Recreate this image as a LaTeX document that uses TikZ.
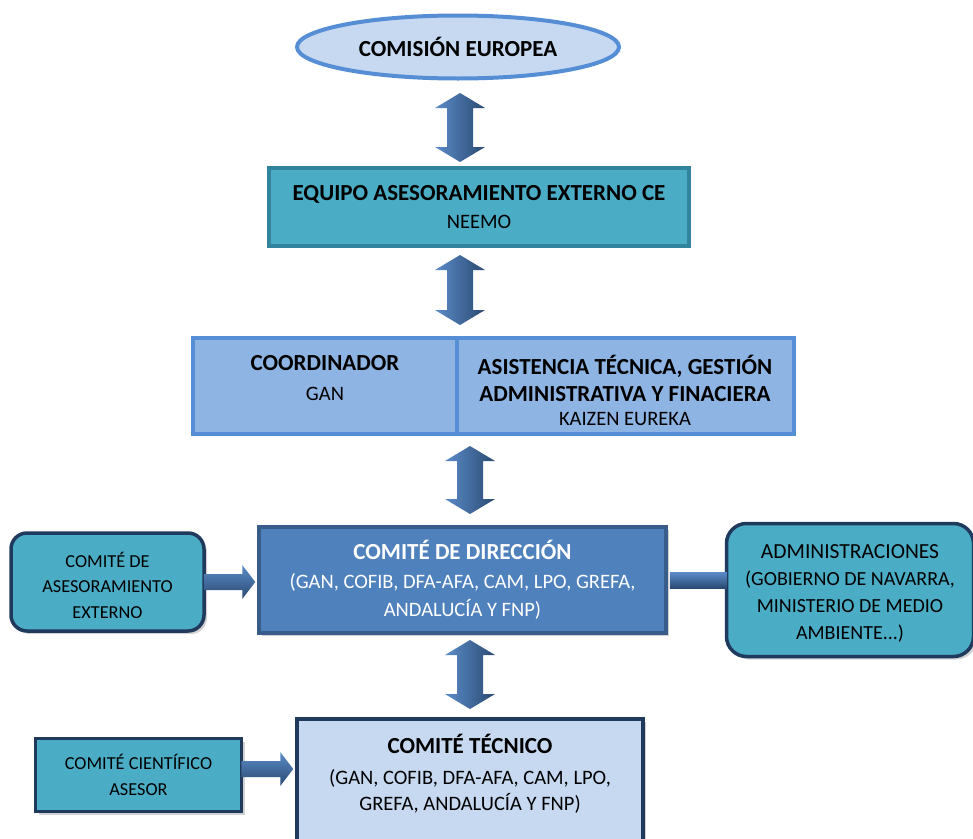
\documentclass[tikz,border=0pt]{standalone}
\usepackage{fontspec}
\setmainfont{Carlito}
\usetikzlibrary{calc,shadows,shapes.geometric}
\definecolor{ellfill}{HTML}{C6D9F1}
\definecolor{elldraw}{HTML}{558ED5}
\definecolor{teal}{HTML}{4BACC6}
\definecolor{tealdark}{HTML}{31849B}
\definecolor{coordfill}{HTML}{8EB4E3}
\definecolor{coorddraw}{HTML}{558ED5}
\definecolor{dirfill}{HTML}{4F81BD}
\definecolor{dirdraw}{HTML}{385D8A}
\definecolor{navy}{HTML}{1F3A5C}
\definecolor{tecfill}{HTML}{C6D9F1}
\definecolor{arrlight}{HTML}{5B8CC9}
\definecolor{arrdark}{HTML}{2A4A72}
\newcommand\vdarrow[2]{%
 \shade[left color=arrlight,right color=arrdark] (#1) -- ($(#1)+(25,15)$) -- ($(#1)+(13,15)$) -- ($(#2)+(13,-15)$) -- ($(#2)+(25,-15)$) -- (#2) -- ($(#2)+(-25,-15)$) -- ($(#2)+(-13,-15)$) -- ($(#1)+(-13,15)$) -- ($(#1)+(-25,15)$) -- cycle;}
\newcommand\hsarrow[2]{%
 \shade[top color=arrlight,bottom color=arrdark] ($(#1)+(0,-8)$) -- ($(#2)+(-13,-8)$) -- ($(#2)+(-13,-17)$) -- (#2) -- ($(#2)+(-13,17)$) -- ($(#2)+(-13,8)$) -- ($(#1)+(0,8)$) -- cycle;}
\newcommand\ttl{\fontsize{23}{28}\selectfont\bfseries}
\newcommand\sub{\fontsize{20.5}{28}\selectfont}
\begin{document}
\begin{tikzpicture}[x=1pt,y=-1pt,
  box/.style={draw,line width=3.5pt,inner sep=0pt,align=center},
  shad/.style={drop shadow={shadow xshift=3pt,shadow yshift=-3pt,opacity=0.35}},
  smallfont/.style={font=\fontsize{18.3}{25.5}\selectfont}]
\useasboundingbox[fill=white] (0,0) rectangle (973,838);

% Comision Europea
\node[ellipse,draw=elldraw,fill=ellfill,line width=4pt,minimum width=322pt,minimum height=63pt,inner sep=0pt,font=\ttl] (ce) at (458,47) {COMISIÓN EUROPEA};

% Equipo
\node[box,draw=tealdark,fill=teal,minimum width=420pt,minimum height=78pt,font=\sub] (eq) at (479,207) {{\ttl EQUIPO ASESORAMIENTO EXTERNO CE}\\NEEMO};

% Coordinador
\node[box,draw=coorddraw,fill=coordfill,minimum width=601pt,minimum height=96pt] (co) at (493.5,386) {};
\draw[coorddraw,line width=3.5pt] (co.north -| 457,0) -- (co.south -| 457,0);
\node[align=center,font=\sub] (cot) at (325,378) {{\ttl COORDINADOR}\\[2pt]GAN};
\node[align=center,font=\sub] (ast) at (625,390) {{\ttl ASISTENCIA TÉCNICA, GESTIÓN}\\[-1pt]{\ttl ADMINISTRATIVA Y FINACIERA}\\[-4pt]KAIZEN EUREKA};

% Comite de direccion
\node[box,shad,draw=dirdraw,fill=dirfill,minimum width=407pt,minimum height=106pt,text=white,font=\sub] (dir) at (462.5,580) {{\ttl COMITÉ DE DIRECCIÓN}\\[1pt](GAN, COFIB, DFA-AFA, CAM, LPO, GREFA,\\ANDALUCÍA Y FNP)};

% Comite de asesoramiento externo
\node[box,shad,draw=navy,fill=teal,rounded corners=16pt,minimum width=193pt,minimum height=98pt,smallfont] (cae) at (107.5,582) {};
\node[align=center,smallfont] (caet) at (107.5,585) {COMITÉ DE\\ASESORAMIENTO\\EXTERNO};

% Administraciones
\node[box,shad,draw=navy,fill=teal,rounded corners=20pt,minimum width=247pt,minimum height=133pt] (adm) at (850,590) {};
\node[align=center,font=\fontsize{20}{27}\selectfont] (admt) at (850,593) {{\fontsize{21.5}{26}\selectfont ADMINISTRACIONES}\\(GOBIERNO DE NAVARRA,\\MINISTERIO DE MEDIO\\AMBIENTE...)};

% Comite tecnico
\node[box,shad,draw=navy,fill=tecfill,minimum width=346pt,minimum height=130pt] (tec) at (470,784) {};
\node[align=center,font=\sub] (tect) at (470,774) {{\ttl COMITÉ TÉCNICO}\\[3pt](GAN, COFIB, DFA-AFA, CAM, LPO,\\[-2pt]GREFA, ANDALUCÍA Y FNP)};

% Comite cientifico
\node[box,shad,draw=navy,fill=teal,minimum width=206pt,minimum height=73pt,smallfont] (cca) at (138.5,775) {COMITÉ CIENTÍFICO\\ASESOR};

% vertical double arrows
\coordinate (a1t) at (460,93);  \coordinate (a1b) at (460,162);
\coordinate (a2t) at (460,255); \coordinate (a2b) at (460,325);
\coordinate (a3t) at (470,446); \coordinate (a3b) at (470,514);
\coordinate (a4t) at (470,640); \coordinate (a4b) at (470,709);
\vdarrow{a1t}{a1b}
\vdarrow{a2t}{a2b}
\vdarrow{a3t}{a3b}
\vdarrow{a4t}{a4b}

% horizontal arrows
\coordinate (h1s) at ($(cae.east)+(-2,0)$);
\coordinate (h1t) at ($(cae.east -| dir.west)+(-2,0)$);
\hsarrow{h1s}{h1t}
\coordinate (h2s) at ($(cca.east)+(-2,-6)$);
\coordinate (h2t) at ($(cca.east -| tec.west)+(-2,-6)$);
\hsarrow{h2s}{h2t}
% bar to administraciones
\shade[top color=arrlight,bottom color=arrdark] ($(dir.east)+(2,-8)$) rectangle ($(dir.east -| adm.west)+(2,8)$);
\end{tikzpicture}
\end{document}
